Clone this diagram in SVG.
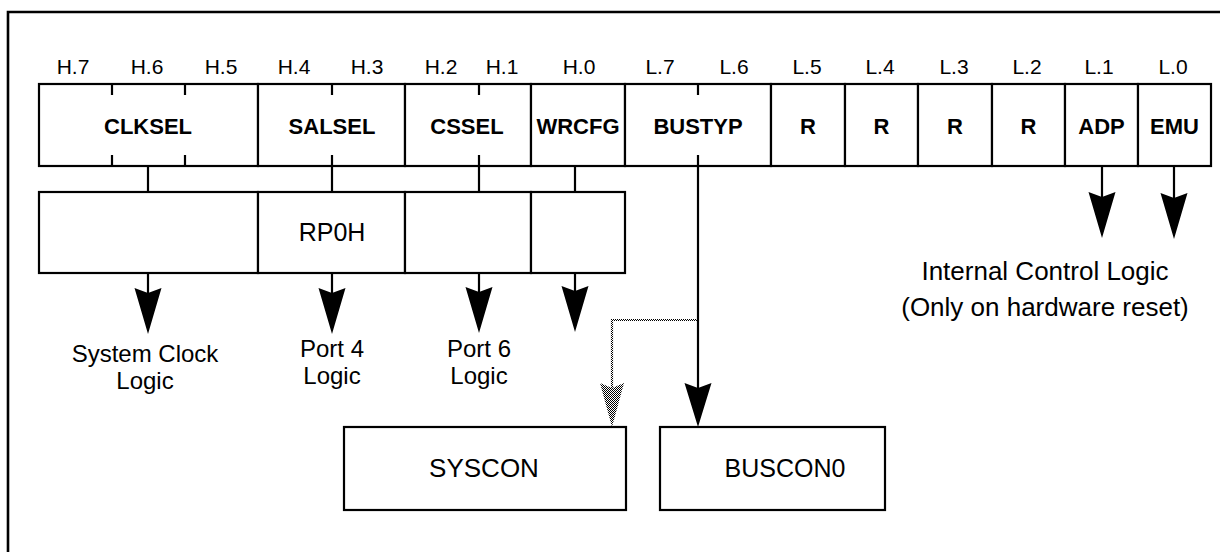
<svg xmlns="http://www.w3.org/2000/svg" width="1220" height="552" viewBox="0 0 1220 552">
<style>
.bx{fill:#fff;stroke:#000;stroke-width:2.2}
.ln{fill:none;stroke:#000;stroke-width:2.2}
.bit{font-family:"Liberation Sans",Arial,sans-serif;font-size:21px;text-anchor:middle;fill:#000}
.fld{font-family:"Liberation Sans",Arial,sans-serif;font-size:22px;font-weight:bold;text-anchor:middle;fill:#000}
.lbl{font-family:"Liberation Sans",Arial,sans-serif;font-size:26px;text-anchor:middle;fill:#000}
.lb2{font-family:"Liberation Sans",Arial,sans-serif;font-size:24px;text-anchor:middle;fill:#000}
</style>
<defs>
<path id="ah" d="M0,0 L-13.5,-46 L0,-41 L13.5,-46 Z" fill="#000"/>
<pattern id="chk" width="2" height="2" patternUnits="userSpaceOnUse"><rect width="1" height="1" fill="#000"/><rect x="1" y="1" width="1" height="1" fill="#000"/></pattern>
</defs>
<rect width="1220" height="552" fill="#fff"/>
<path d="M8,552 V12 H1222" fill="none" stroke="#000" stroke-width="2.6"/>

<g id="bit-labels">
<text class="bit" x="73" y="74">H.7</text>
<text class="bit" x="147" y="74">H.6</text>
<text class="bit" x="221" y="74">H.5</text>
<text class="bit" x="294" y="74">H.4</text>
<text class="bit" x="367" y="74">H.3</text>
<text class="bit" x="441" y="74">H.2</text>
<text class="bit" x="502" y="74">H.1</text>
<text class="bit" x="579" y="74">H.0</text>
<text class="bit" x="660" y="74">L.7</text>
<text class="bit" x="734" y="74">L.6</text>
<text class="bit" x="807" y="74">L.5</text>
<text class="bit" x="880" y="74">L.4</text>
<text class="bit" x="954" y="74">L.3</text>
<text class="bit" x="1027" y="74">L.2</text>
<text class="bit" x="1099" y="74">L.1</text>
<text class="bit" x="1173" y="74">L.0</text>
</g>

<g id="clksel"><rect class="bx" x="39" y="84" width="219" height="82"/><path class="ln" d="M112,84 V95 M185,84 V95 M112,155 V166 M185,155 V166"/><text class="fld" x="148" y="134">CLKSEL</text></g>
<g id="salsel"><rect class="bx" x="258" y="84" width="147" height="82"/><path class="ln" d="M332,84 V95 M332,155 V166"/><text class="fld" x="332" y="134">SALSEL</text></g>
<g id="cssel"><rect class="bx" x="405" y="84" width="126" height="82"/><path class="ln" d="M479,84 V95 M479,155 V166"/><text class="fld" x="467" y="134">CSSEL</text></g>
<g id="wrcfg"><rect class="bx" x="531" y="84" width="94" height="82"/><text class="fld" x="578" y="134">WRCFG</text></g>
<g id="bustyp"><rect class="bx" x="625" y="84" width="146" height="82"/><path class="ln" d="M698,84 V95 M698,155 V166"/><text class="fld" x="698" y="134">BUSTYP</text></g>
<g id="r5"><rect class="bx" x="771" y="84" width="74" height="82"/><text class="fld" x="808" y="134">R</text></g>
<g id="r4"><rect class="bx" x="845" y="84" width="73" height="82"/><text class="fld" x="881.5" y="134">R</text></g>
<g id="r3"><rect class="bx" x="918" y="84" width="74" height="82"/><text class="fld" x="955" y="134">R</text></g>
<g id="r2"><rect class="bx" x="992" y="84" width="73" height="82"/><text class="fld" x="1028.5" y="134">R</text></g>
<g id="adp"><rect class="bx" x="1065" y="84" width="73" height="82"/><text class="fld" x="1101.5" y="134">ADP</text></g>
<g id="emu"><rect class="bx" x="1138" y="84" width="73" height="82"/><text class="fld" x="1174.5" y="134">EMU</text></g>

<g id="clk-latch"><rect class="bx" x="39" y="192" width="219" height="81"/></g>
<g id="rp0h"><rect class="bx" x="258" y="192" width="147" height="81"/><text class="lbl" x="332" y="241" style="font-size:25px">RP0H</text></g>
<g id="cs-latch"><rect class="bx" x="405" y="192" width="126" height="81"/></g>
<g id="wr-latch"><rect class="bx" x="531" y="192" width="94" height="81"/></g>

<g id="syscon"><rect class="bx" x="344" y="427" width="282" height="83"/><text class="lbl" x="484" y="477">SYSCON</text></g>
<g id="buscon0"><rect class="bx" x="660" y="427" width="225" height="83"/><text class="lbl" x="785" y="477" style="font-size:25px">BUSCON0</text></g>

<g id="sysclk-label"><text class="lb2" x="145" y="362">System Clock</text><text class="lb2" x="145" y="389">Logic</text></g>
<g id="port4-label"><text class="lb2" x="332" y="357">Port 4</text><text class="lb2" x="332" y="384">Logic</text></g>
<g id="port6-label"><text class="lb2" x="479" y="357">Port 6</text><text class="lb2" x="479" y="384">Logic</text></g>
<g id="internal-label"><text class="lbl" x="1045" y="280">Internal Control Logic</text><text class="lbl" x="1045" y="316">(Only on hardware reset)</text></g>

<g id="connectors">
<path class="ln" d="M148,166 V192 M332,166 V192 M479,166 V192 M575,166 V192"/>
<path class="ln" d="M148,273 V295 M332,273 V295 M479,273 V294 M575,273 V293"/>
<use href="#ah" x="148" y="334"/>
<use href="#ah" x="332" y="334"/>
<use href="#ah" x="479" y="333"/>
<use href="#ah" x="575" y="332"/>
<path class="ln" d="M698,166 V390"/>
<path d="M698,427 L684.5,383 L698,388 L711.5,383 Z" fill="#000"/>
<path d="M697,320 H612 V390" fill="none" stroke="url(#chk)" stroke-width="2.2"/>
<path d="M612,427 L600,383 L612,388 L624,383 Z" fill="url(#chk)"/>
<path class="ln" d="M1102,166 V198 M1174,166 V198"/>
<use href="#ah" x="1102" y="238"/>
<use href="#ah" x="1174" y="239"/>
</g>
</svg>
